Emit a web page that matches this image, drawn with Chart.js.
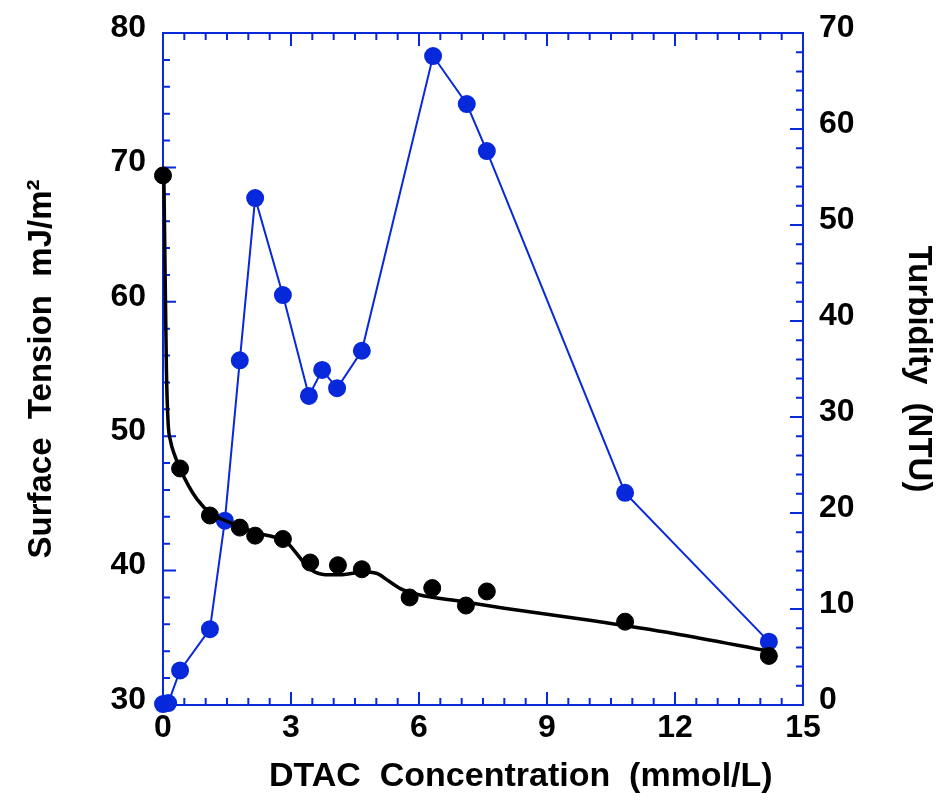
<!DOCTYPE html>
<html>
<head>
<meta charset="utf-8">
<script src="https://cdn.jsdelivr.net/npm/chart.js@4.4.0/dist/chart.umd.min.js"></script>
<style>
  body { margin: 0; background: #fff; }
  #wrap { width: 942px; height: 800px; }
</style>
</head>
<body>
<div id="wrap"><canvas id="paramChart"></canvas></div>
<script>
// DTAC concentration (mmol/L) for the surface tension points
var stConc = [0, 0.4, 1.1, 1.8, 2.16, 2.81, 3.45, 4.1, 4.66, 5.78, 6.31, 7.1, 7.59, 10.83, 14.2];
var stValue = [69.4, 47.6, 44.1, 43.2, 42.6, 42.35, 40.6, 40.4, 40.1, 38.0, 38.7, 37.4, 38.45, 36.2, 33.65];

// fitted surface tension curve
var fitConc = [0.02, 0.05, 0.08, 0.12, 0.18, 0.26, 0.4, 0.6, 0.8, 1.1, 1.4, 1.8, 2.2, 2.6, 2.9, 3.1, 3.3, 3.5, 3.8, 4.2, 4.7, 5.0, 5.3, 5.6, 6.0, 7.0, 8.0, 10.0, 12.0, 14.2];
var fitValue = [69.4, 62, 55, 51, 49.6, 48.7, 47.6, 46.3, 45.3, 44.3, 43.8, 43.3, 42.8, 42.5, 42.1, 41.4, 40.6, 40.0, 39.7, 39.7, 39.9, 39.8, 39.2, 38.6, 38.2, 37.7, 37.2, 36.3, 35.3, 34.0];

// turbidity (NTU)
var turbConc = [0, 0.12, 0.4, 1.1, 1.45, 1.8, 2.16, 2.81, 3.42, 3.73, 4.08, 4.66, 6.33, 7.12, 7.59, 10.83, 14.2];
var turbValue = [0.1, 0.2, 3.6, 7.9, 19.2, 35.9, 52.8, 42.7, 32.2, 34.9, 33.0, 36.9, 67.6, 62.6, 57.7, 22.1, 6.6];

var xTickVals = [0, 3, 6, 9, 12, 15];
var yTickVals = [30, 40, 50, 60, 70, 80];
var y2TickVals = [0, 10, 20, 30, 40, 50, 60, 70];

var blue = 'rgb(8,40,220)';
var font = 'Liberation Sans, Arial, sans-serif';

function pts(xs, ys) {
  var out = [];
  for (var i in xs) out.push({x: xs[i], y: ys[i]});
  return out;
}

// frame with inward ticks on all four sides
var frameTicks = {
  id: 'frameTicks',
  beforeDatasetsDraw: function(chart) {
    var c = chart.ctx, a = chart.chartArea, s = chart.scales;
    c.save();
    c.strokeStyle = blue;
    c.lineWidth = 2;
    c.strokeRect(a.left, a.top, a.right - a.left, a.bottom - a.top);
    c.beginPath();
    for (var v = 0; v <= 15.001; v += 0.5) {
      var px = s.x.getPixelForValue(v);
      var len = (Math.abs(v % 3) < 0.01) ? 13 : 7;
      c.moveTo(px, a.bottom); c.lineTo(px, a.bottom - len);
      c.moveTo(px, a.top); c.lineTo(px, a.top + len);
    }
    for (var w = 30; w <= 80; w += 2) {
      var py = s.y.getPixelForValue(w);
      var l1 = (w % 10 === 0) ? 13 : 7;
      c.moveTo(a.left, py); c.lineTo(a.left + l1, py);
    }
    for (var t = 0; t <= 70; t += 2) {
      var py2 = s.y2.getPixelForValue(t);
      var l2 = (t % 10 === 0) ? 13 : 7;
      c.moveTo(a.right, py2); c.lineTo(a.right - l2, py2);
    }
    c.stroke();
    c.restore();
  }
};

var tickFont = {family: font, size: 32, weight: 'bold', lineHeight: 1};
var titleFont = {family: font, size: 33, weight: 'bold'};

var ctx = document.getElementById('paramChart');
var chart = new Chart(ctx, {
  type: 'scatter',
  data: {
    datasets: [
      {
        label: 'Turbidity',
        type: 'line',
        data: pts(turbConc, turbValue),
        yAxisID: 'y2',
        borderColor: blue,
        backgroundColor: blue,
        borderWidth: 2,
        pointRadius: 8,
        pointHoverRadius: 8,
        tension: 0,
        clip: false,
        order: 3
      },
      {
        label: 'Fit',
        type: 'line',
        data: pts(fitConc, fitValue),
        yAxisID: 'y',
        borderColor: '#000',
        borderWidth: 3.5,
        pointRadius: 0,
        cubicInterpolationMode: 'monotone',
        clip: false,
        order: 2
      },
      {
        label: 'Surface Tension',
        data: pts(stConc, stValue),
        yAxisID: 'y',
        borderColor: '#000',
        backgroundColor: '#000',
        pointRadius: 8.5,
        pointHoverRadius: 8.5,
        showLine: false,
        clip: false,
        order: 1
      }
    ]
  },
  options: {
    responsive: true,
    maintainAspectRatio: false,
    animation: false,
    layout: {padding: {top: 33, left: 0, right: 0, bottom: 0}},
    plugins: {legend: {display: false}, tooltip: {enabled: false}},
    scales: {
      x: {
        type: 'linear', min: 0, max: 15,
        grid: {display: false, drawTicks: false},
        border: {display: false},
        afterBuildTicks: function(s) { s.ticks = xTickVals.map(function(v){ return {value: v}; }); },
        afterFit: function(s) { s.height = 95; },
        ticks: {color: '#000', font: tickFont, padding: 7, maxRotation: 0},
        title: {display: true, text: '        DTAC  Concentration  (mmol/L)', color: '#000', font: {family: font, size: 34, weight: 'bold'}, padding: {top: 0, bottom: 3}}
      },
      y: {
        type: 'linear', position: 'left', min: 30, max: 80,
        grid: {display: false, drawTicks: false},
        border: {display: false},
        afterBuildTicks: function(s) { s.ticks = yTickVals.map(function(v){ return {value: v}; }); },
        afterFit: function(s) { s.width = 163; },
        ticks: {color: '#000', font: tickFont, padding: 17, labelOffset: -5},
        title: {display: true, text: 'Surface  Tension  mJ/m\u00B2', color: '#000', font: titleFont, padding: {top: 22, bottom: 0}}
      },
      y2: {
        type: 'linear', position: 'right', min: 0, max: 70,
        grid: {display: false, drawTicks: false},
        border: {display: false},
        afterBuildTicks: function(s) { s.ticks = y2TickVals.map(function(v){ return {value: v}; }); },
        afterFit: function(s) { s.width = 139; },
        ticks: {color: '#000', font: tickFont, padding: 16, labelOffset: -5},
        title: {display: true, text: 'Turbidity  (NTU)', color: '#000', font: titleFont, padding: {top: 4, bottom: 0}}
      }
    }
  },
  plugins: [frameTicks]
});
</script>
</body>
</html>
